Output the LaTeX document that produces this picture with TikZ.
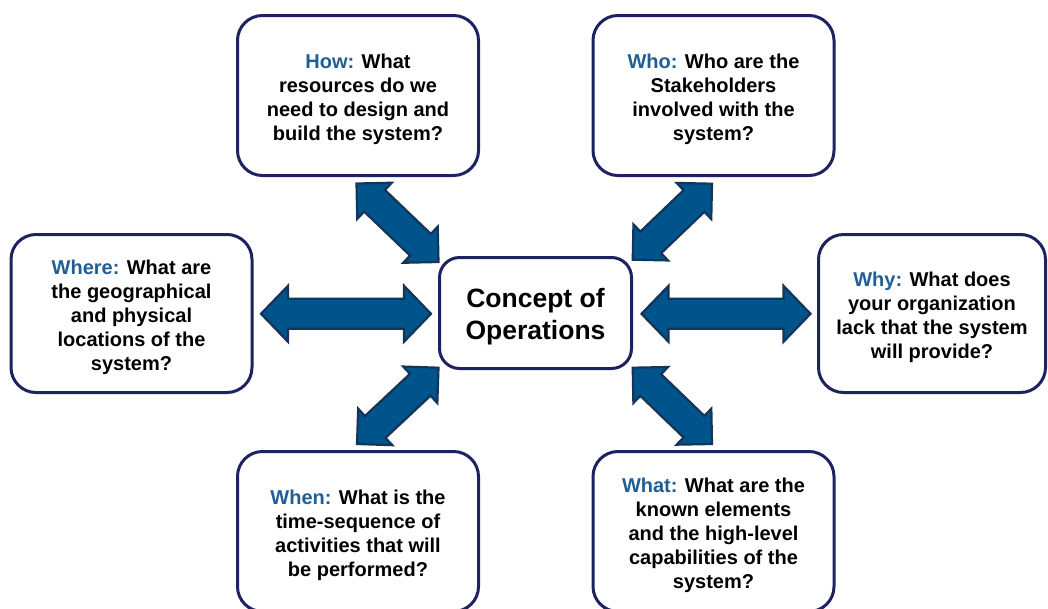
\documentclass[tikz,border=0pt]{standalone}
\usepackage{fontspec}
\setmainfont{Liberation Sans}
\usetikzlibrary{calc}
\definecolor{boxline}{RGB}{30,34,96}
\definecolor{qblue}{RGB}{31,95,150}
\definecolor{arrfill}{RGB}{0,84,140}
\definecolor{arrline}{RGB}{20,52,88}
\tikzset{
  qbox/.style={draw=boxline, line width=3pt, rounded corners=25pt, fill=white,
    inner sep=0pt, minimum width=241pt, minimum height=160pt},
  cbox/.style={draw=boxline, line width=3pt, rounded corners=20pt, fill=white,
    inner sep=0pt, minimum width=192pt, minimum height=111pt},
  qtext/.style={align=center, inner sep=0pt, font=\fontsize{20}{24}\selectfont\bfseries},
  ctext/.style={align=center, inner sep=0pt, font=\fontsize{26.5}{32}\selectfont\bfseries},
  blockarr/.style={fill=arrfill, draw=arrline, line width=2.2pt, line join=miter},
}
\newcommand{\qlab}[1]{\textcolor{qblue}{#1}}
% #1 tip A, #2 tip B, #3 shaft half width, #4 head half width, #5 head length
\newcommand{\blockarrow}[5]{%
  \coordinate (#1-h) at ($(#1)!#5!(#2)$);
  \coordinate (#2-h) at ($(#2)!#5!(#1)$);
  \filldraw[blockarr] (#1) -- ($(#1-h)!#4!90:(#2)$) -- ($(#1-h)!#3!90:(#2)$)
    -- ($(#2-h)!#3!-90:(#1)$) -- ($(#2-h)!#4!-90:(#1)$) -- (#2)
    -- ($(#2-h)!#4!90:(#1)$) -- ($(#2-h)!#3!90:(#1)$)
    -- ($(#1-h)!#3!-90:(#2)$) -- ($(#1-h)!#4!-90:(#2)$) -- cycle;}
\begin{document}
\begin{tikzpicture}[x=1pt,y=-1pt]
\useasboundingbox (0,0) rectangle (1048,608);
\clip (0,0) rectangle (1048,608);
\fill[white] (0,0) rectangle (1048,608);

% arrow end points
\coordinate (ula) at (356.5,183.5);
\coordinate (ulb) at (438.5,262);
\coordinate (ura) at (712,183.7);
\coordinate (urb) at (632.7,259.7);
\coordinate (lla) at (438.5,367.7);
\coordinate (llb) at (357,444);
\coordinate (lra) at (632.7,367.7);
\coordinate (lrb) at (712,444);
\coordinate (la) at (261,313.8);
\coordinate (lb) at (431,313.8);
\coordinate (ra) at (641.5,313.8);
\coordinate (rb) at (810.5,313.8);

\blockarrow{ula}{ulb}{15pt}{25pt}{25pt}
\blockarrow{ura}{urb}{15pt}{25pt}{25pt}
\blockarrow{lla}{llb}{15pt}{25pt}{25pt}
\blockarrow{lra}{lrb}{15pt}{25pt}{25pt}
\blockarrow{la}{lb}{15pt}{28pt}{27pt}
\blockarrow{ra}{rb}{15pt}{28pt}{27pt}

\node[qbox] (how) at (358,95.5) {};
\node[qbox] (who) at (713.5,95.5) {};
\node[qbox, minimum height=158pt] (where) at (131.5,313.5) {};
\node[qbox, minimum height=158pt, minimum width=227pt] (why) at (932,313.5) {};
\node[qbox] (when) at (358,531.5) {};
\node[qbox] (what) at (713.5,531.5) {};
\node[cbox] (conops) at (535.5,313) {};

\node[qtext] (how-t) at ([yshift=-4pt]how.center) {\qlab{How:} What\\resources do we\\need to design and\\build the system?};
\node[qtext] (who-t) at ([yshift=-4pt]who.center) {\qlab{Who:} Who are the\\Stakeholders\\involved with the\\system?};
\node[qtext] (where-t) at ([yshift=-4pt]where.center) {\qlab{Where:} What are\\the geographical\\and physical\\locations of the\\system?};
\node[qtext] (why-t) at ([yshift=-4pt]why.center) {\qlab{Why:} What does\\your organization\\lack that the system\\will provide?};
\node[qtext] (when-t) at ([yshift=-4pt]when.center) {\qlab{When:} What is the\\time-sequence of\\activities that will\\be performed?};
\node[qtext] (what-t) at ([yshift=-4pt]what.center) {\qlab{What:} What are the\\known elements\\and the high-level\\capabilities of the\\system?};
\node[ctext] (conops-t) at ([yshift=-4pt]conops.center) {Concept of\\Operations};
\end{tikzpicture}
\end{document}
